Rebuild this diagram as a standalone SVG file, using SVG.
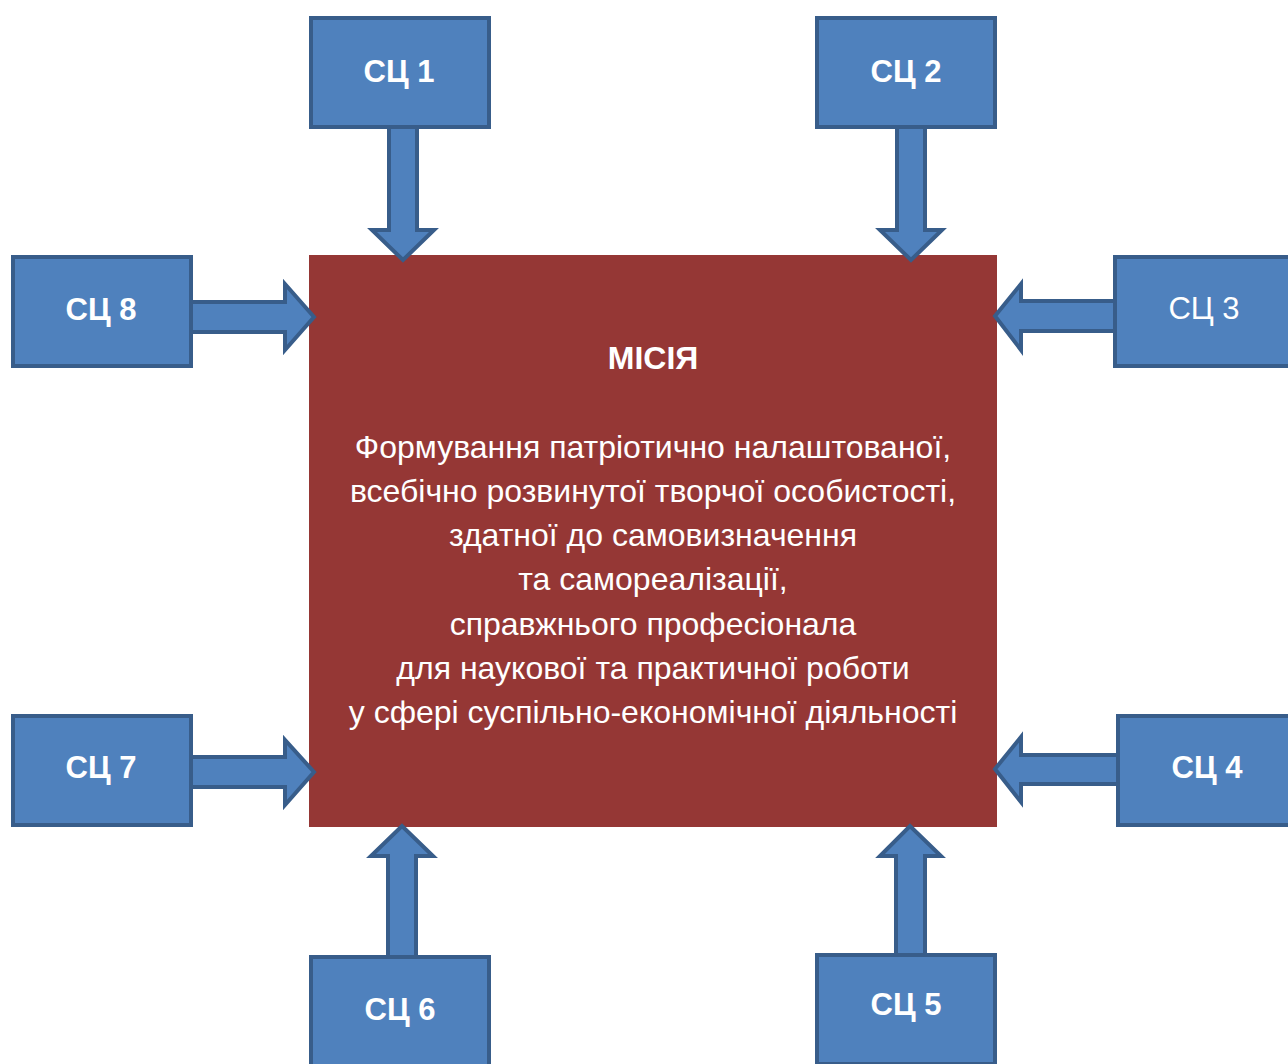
<svg xmlns="http://www.w3.org/2000/svg" width="1288" height="1064" viewBox="0 0 1288 1064">
<style>
.box{fill:#4F81BD;stroke:#385D8A;stroke-width:4}
.arr{fill:#4F81BD;stroke:#385D8A;stroke-width:4;stroke-linejoin:miter}
.lbl{font-family:"Liberation Sans",Arial,sans-serif;font-size:31px;font-weight:bold;fill:#FFFFFF;text-anchor:middle}
.lblr{font-family:"Liberation Sans",Arial,sans-serif;font-size:31px;fill:#FFFFFF;text-anchor:middle}
.mt{font-family:"Liberation Sans",Arial,sans-serif;font-size:32px;fill:#FFFFFF;text-anchor:middle}
</style>
<rect width="1288" height="1064" fill="#FFFFFF"/>
<g id="mission">
<rect x="309" y="255" width="688" height="572" fill="#953735"/>
<text class="mt" x="653" y="369" font-weight="bold" font-size="34">МІСІЯ</text>
<text class="mt" x="653" y="458">Формування патріотично налаштованої,</text>
<text class="mt" x="653" y="502">всебічно розвинутої творчої особистості,</text>
<text class="mt" x="653" y="546">здатної до самовизначення</text>
<text class="mt" x="653" y="590">та самореалізації,</text>
<text class="mt" x="653" y="635">справжнього професіонала</text>
<text class="mt" x="653" y="679">для наукової та практичної роботи</text>
<text class="mt" x="653" y="723">у сфері суспільно-економічної діяльності</text>
</g>
<g id="sc1"><rect class="box" x="311" y="18" width="178" height="109"/><text class="lbl" x="399" y="82">СЦ 1</text></g>
<g id="sc2"><rect class="box" x="817" y="18" width="178" height="109"/><text class="lbl" x="906" y="82">СЦ 2</text></g>
<g id="sc3"><rect class="box" x="1115" y="257" width="178" height="109"/><text class="lblr" x="1204" y="319">СЦ 3</text></g>
<g id="sc4"><rect class="box" x="1118" y="716" width="178" height="109"/><text class="lbl" x="1207" y="778">СЦ 4</text></g>
<g id="sc5"><rect class="box" x="817" y="955" width="178" height="109"/><text class="lbl" x="906" y="1015">СЦ 5</text></g>
<g id="sc6"><rect class="box" x="311" y="957" width="178" height="109"/><text class="lbl" x="400" y="1020">СЦ 6</text></g>
<g id="sc7"><rect class="box" x="13" y="716" width="178" height="109"/><text class="lbl" x="101" y="778">СЦ 7</text></g>
<g id="sc8"><rect class="box" x="13" y="257" width="178" height="109"/><text class="lbl" x="101" y="320">СЦ 8</text></g>
<g id="connectors">
<polygon class="arr" points="389,127 417,127 417,230 434,230 403,260 372,230 389,230"/>
<polygon class="arr" points="897,127 925,127 925,230 942,230 911,260 880,230 897,230"/>
<polygon class="arr" points="191,302 285,302 285,284 314,317 285,350 285,332 191,332"/>
<polygon class="arr" points="1115,301 1021,301 1021,284 995,316 1021,350 1021,331 1115,331"/>
<polygon class="arr" points="1118,755 1021,755 1021,737 995,769 1021,802 1021,784 1118,784"/>
<polygon class="arr" points="191,757 285,757 285,740 314,772 285,805 285,787 191,787"/>
<polygon class="arr" points="388,957 388,856 371,856 402,826 433,856 416,856 416,957"/>
<polygon class="arr" points="896,955 896,856 880,856 910,826 941,856 925,856 925,955"/>
</g>
</svg>
